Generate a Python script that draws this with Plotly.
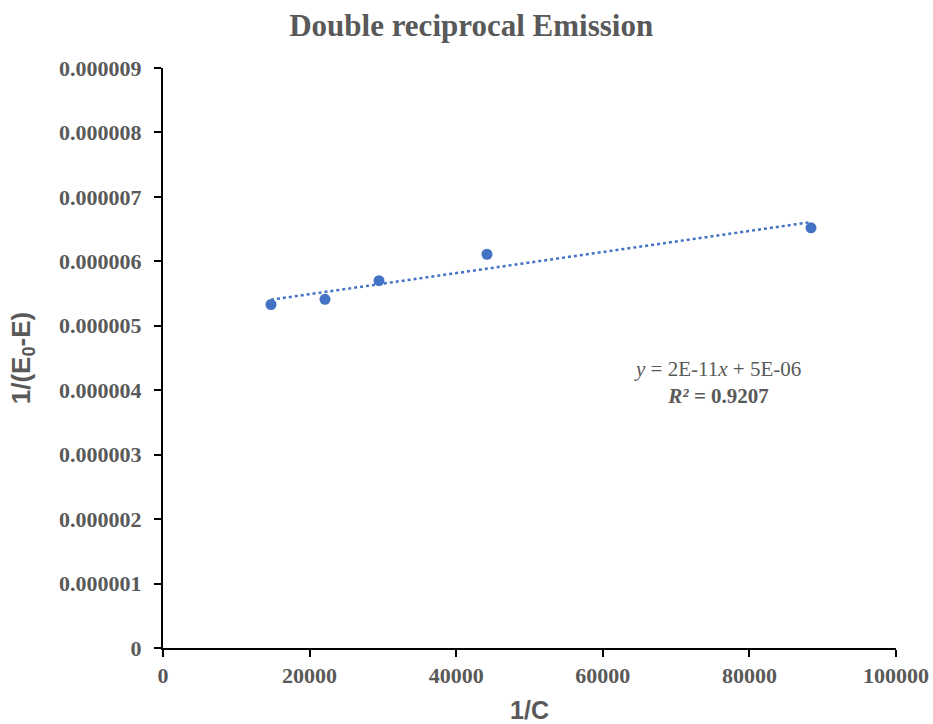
import numpy as np
import plotly.graph_objects as go

inv_c = [14734, 22101, 29468, 44202, 88404]
inv_de = [5.33e-6, 5.41e-6, 5.70e-6, 6.11e-6, 6.52e-6]
x_ticks = [0, 20000, 40000, 60000, 80000, 100000]
y_ticks = [0, 0.000001, 0.000002, 0.000003, 0.000004, 0.000005, 0.000006, 0.000007, 0.000008, 0.000009]

slope, intercept = np.polyfit(inv_c, inv_de, 1)
fit_x = [min(inv_c), max(inv_c)]
fit_y = [slope * v + intercept for v in fit_x]

blue = "#4472C4"
gray = "#595959"
serif = "Liberation Serif, Times New Roman, serif"
sans = "Liberation Sans, Arial, sans-serif"

fig = go.Figure()
fig.add_trace(go.Scatter(x=fit_x, y=fit_y, mode="lines",
                         line=dict(color=blue, width=2.5, dash="dot"), hoverinfo="skip"))
fig.add_trace(go.Scatter(x=inv_c, y=inv_de, mode="markers",
                         marker=dict(color=blue, size=11)))

fig.update_layout(
    width=933, height=724,
    margin=dict(l=163, r=37, t=68, b=76),
    paper_bgcolor="white", plot_bgcolor="white",
    showlegend=False,
    title=dict(text="<b>Double reciprocal Emission</b>", x=0.505, xanchor="center",
               y=0.965, yanchor="middle", font=dict(family=serif, size=31, color=gray)),
    annotations=[dict(x=75700, y=0.00000412, xref="x", yref="y", showarrow=False,
                      text="<i>y</i> = 2E-11<i>x</i> + 5E-06<br><b><i>R²</i> = 0.9207</b>",
                      align="center", font=dict(family=serif, size=21, color=gray),
                      yanchor="middle", xanchor="center")],
)

fig.update_xaxes(range=[0, 100000], tickvals=x_ticks, ticktext=[str(v) for v in x_ticks],
                 automargin=False,
                 showgrid=False, zeroline=False, showline=True, linecolor="black", linewidth=2,
                 ticks="outside", ticklen=7, tickwidth=2, tickcolor="black", ticklabelstandoff=0,
                 tickfont=dict(family=serif, size=22, color=gray, weight="bold"),
                 title=dict(text="<b>1/C</b>", font=dict(family=sans, size=25, color=gray), standoff=14))
fig.update_yaxes(range=[0, 0.000009], tickvals=y_ticks,
                 ticktext=["0"] + [f"{v:.6f}" for v in y_ticks[1:]],
                 automargin=False,
                 showgrid=False, zeroline=False, showline=True, linecolor="black", linewidth=2,
                 ticks="outside", ticklen=7, tickwidth=2, tickcolor="black", ticklabelstandoff=8,
                 tickfont=dict(family=serif, size=22, color=gray, weight="bold"),
                 title=dict(text="<b>1/(E<sub>0</sub>-E)</b>", font=dict(family=sans, size=26, color=gray), standoff=21))

fig.write_html("out.html")
